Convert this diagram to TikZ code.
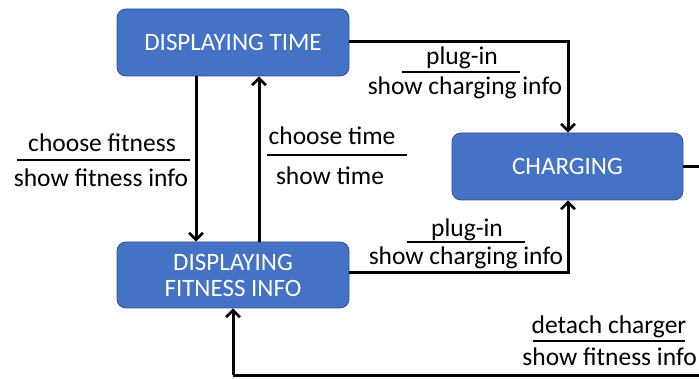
\documentclass[tikz,border=0pt]{standalone}
\usepackage{fontspec}
\setmainfont{Carlito}
\usetikzlibrary{arrows.meta}
\definecolor{boxblue}{HTML}{4472C4}
\definecolor{boxedge}{HTML}{2F528F}
\tikzset{
  state/.style={draw=boxedge, line width=0.8pt, fill=boxblue, rounded corners=9pt,
    text=white, font=\fontsize{25}{28}\selectfont, align=center, inner sep=0pt},
  conn/.style={line width=3pt, -{Straight Barb[length=7pt,width=14pt,line width=2.6pt]}},
  plain/.style={line width=3pt},
  lbl/.style={font=\fontsize{25.5}{28}\selectfont, inner sep=0pt, anchor=center},
  bar/.style={line width=1.6pt}
}
\begin{document}
\begin{tikzpicture}[x=1pt,y=-1pt]
\useasboundingbox (0,0) rectangle (699,379);
\clip (0,0) rectangle (699,379);
% states
\node[state, minimum width=232pt, minimum height=67pt] (dt) at (233,42.5) {DISPLAYING TIME};
\node[state, minimum width=231pt, minimum height=67pt] (ch) at (567.5,166.5) {CHARGING};
\node[state, minimum width=232pt, minimum height=66pt] (dfi) at (233,275) {DISPLAYING\\[-2pt]FITNESS INFO};
% helper coordinates
\coordinate (c1) at (568,42);
\coordinate (c2) at (568,273);
\coordinate (c3) at (720,167);
\coordinate (c4) at (720,375);
\coordinate (c5) at (233,375);
% connectors
\draw[conn] (dt.south -| 196,0) -- (dfi.north -| 196,0);
\draw[conn] (dfi.north -| 259,0) -- (dt.south -| 259,0);
\draw[conn] (dt.east |- c1) -- (c1) -- (ch.north -| c1);
\draw[conn] (dfi.east |- c2) -- (c2) -- (ch.south -| c2);
\draw[plain] (ch.east |- c3) -- (c3) -- (c4) -- (c5);
\draw[conn] (c5) -- (dfi.south -| c5);
% labels
\node[lbl] (l1a) at (102,143) {choose fitness};
\node[lbl] (l1b) at (101,178) {show fitness info};
\draw[bar] (17,160) -- (190,160);
\node[lbl] (l2a) at (332,136) {choose time};
\node[lbl] (l2b) at (330,176) {show time};
\draw[bar] (267,155) -- (407,155);
\node[lbl] (l3a) at (462,58) {plug-in};
\node[lbl] (l3b) at (465,88) {show charging info};
\draw[bar] (402,72) -- (520,72);
\node[lbl] (l4a) at (467,230) {plug-in};
\node[lbl] (l4b) at (466,258) {show charging info};
\draw[bar] (407,242) -- (525,242);
\node[lbl] (l5a) at (609,327) {detach charger};
\node[lbl, anchor=east] (l5b) at (697,357) {show fitness info};
\draw[bar] (533,341) -- (685,341);
\end{tikzpicture}
\end{document}
